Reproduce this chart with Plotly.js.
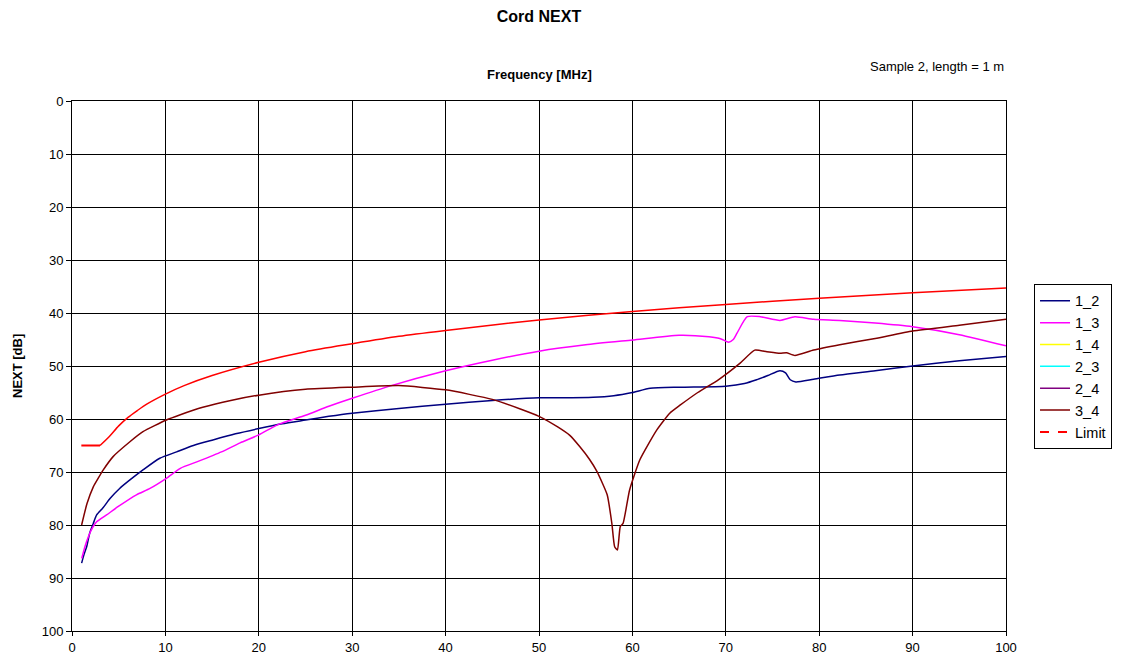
<!DOCTYPE html>
<html><head><meta charset="utf-8">
<script src="https://cdn.plot.ly/plotly-3.0.1.min.js"></script>
<style>html,body{margin:0;padding:0;background:#fff;}#chart{width:1127px;height:666px;}</style>
</head><body><div id="chart"></div>
<script>
// Frequency [MHz] / NEXT [dB]
const f12 = [1.03,1.3,1.57,1.9,2.28,2.64,3.3,4.07,5.1,6.2,7.6,9.4,11.2,13,15,17.5,20,22.5,25,27.5,30,35,40,45,50,52.2,55.8,58,60,61.9,65.1,70,72,73.3,74.5,75.8,76.4,76.9,77.5,79.4,82.2,86,90,95,100];
const v12 = [87.2,85.5,84.1,81.5,79.7,78.1,76.8,75,73.1,71.5,69.6,67.4,66.2,65,64,62.8,61.8,60.9,60.2,59.5,58.9,58,57.2,56.5,56,56.0,55.9,55.6,55,54.2,54,53.8,53.3,52.6,51.8,50.9,51.3,52.6,53,52.5,51.7,50.9,50,49,48.2];

const f13 = [1.04,1.4,1.75,2.2,2.64,3.7,4.96,6.9,8.35,10.1,11.6,13.5,16,18,20,22,25,27.5,30,34,40,45,50,55,60,65,68.2,69.5,70.3,70.8,71.2,72.3,73.7,75.8,77.4,79.4,82.2,86,90,95,100];
const v13 = [86.3,84,82.2,80.5,79.4,78.1,76.5,74.3,73.1,71.2,69.3,68,66.2,64.5,63,61.1,59.3,57.6,56.1,53.8,50.9,48.9,47.2,46,45.1,44.2,44.5,44.9,45.5,45,43.8,40.7,40.7,41.4,40.7,41.2,41.4,41.9,42.6,44.1,46.2];

const f34 = [1.03,1.6,2.28,2.8,3.35,4.4,6.2,7.6,10.1,11.6,14,17,20,25,30,35,40,45,48,50,52,53.3,54.4,55.4,56.2,57.3,57.8,58.1,58.4,58.7,59.0,59.7,60.8,62.6,64.0,65.1,67,69.2,71.5,73.1,74.4,75.8,76.5,77.4,79.4,82.2,86,90,95,100];
const v34 = [80,76,72.8,71.2,69.6,67.1,64.3,62.4,60.2,59.2,57.8,56.5,55.5,54.4,54.0,53.7,54.5,56.3,58.1,59.5,61.5,63.1,65.3,67.6,69.9,74.3,79.7,84.1,84.7,80.3,79.7,73.4,67.7,62.1,58.9,57.4,55,52.6,49.5,47,47.3,47.6,47.5,48,47,46,44.8,43.4,42.3,41.2];

// pairs listed in the legend but not visible on the plot
const f14 = [null], v14 = [null];
const f23 = [null], v23 = [null];
const f24 = [null], v24 = [null];

const fLim = [1,3,4,5,6,7,8,10,12,15,20,25,30,35,40,50,60,70,80,90,100];
const vLim = [65,65,63.3,61.3,59.7,58.4,57.2,55.3,53.7,51.8,49.3,47.3,45.8,44.4,43.3,41.3,39.7,38.4,37.2,36.2,35.3];

const names = ['1_2','1_3','1_4','2_3','2_4','3_4','Limit'];
const FONT = 'Liberation Sans, Arial, sans-serif';

function ln(x,y,name,color,sm){
  return {x:x,y:y,name:name,type:'scatter',mode:'lines',
          line:{color:color,width:1.5,shape:'spline',smoothing:sm},hoverinfo:'skip'};
}
const traces = [
  ln(f12,v12,names[0],'#000080',0.6),
  ln(f13,v13,names[1],'#FF00FF',0.6),
  ln(f14,v14,names[2],'#FFFF00',0.6),
  ln(f23,v23,names[3],'#00FFFF',0.6),
  ln(f24,v24,names[4],'#800080',0.6),
  ln(f34,v34,names[5],'#800000',0.5),
  Object.assign(ln(fLim.slice(1),vLim.slice(1),names[6],'#FF0000',0.8),{showlegend:false}),
  Object.assign(ln(fLim.slice(0,2),vLim.slice(0,2),names[6],'#FF0000',0),{showlegend:false,line:{color:'#FF0000',width:2}}),
  {x:[null],y:[null],name:names[6],type:'scatter',mode:'lines',line:{color:'#FF0000',width:2,dash:'dash'}}
];

const layout = {
  width:1127,height:666,
  margin:{l:72,r:121,t:101,b:35},
  paper_bgcolor:'#fff',plot_bgcolor:'#fff',
  font:{family:FONT,size:13,color:'#000'},
  title:{text:'<b>Cord NEXT</b>',font:{size:16,family:FONT},x:0.5,xref:'paper',y:0.975,yanchor:'middle'},
  xaxis:{range:[0,100],dtick:10,tick0:0,showgrid:true,gridcolor:'#000',gridwidth:1,
         showline:true,linecolor:'#000',linewidth:1,mirror:true,ticks:'outside',ticklen:4,tickcolor:'#000',
         zeroline:false,tickfont:{size:13}},
  yaxis:{range:[100,0],dtick:10,tick0:0,showgrid:true,gridcolor:'#000',gridwidth:1,
         showline:true,linecolor:'#000',linewidth:1,mirror:true,ticks:'outside',ticklen:5,tickcolor:'#000',
         zeroline:false,tickfont:{size:13}},
  showlegend:true,
  legend:{x:1.03,xanchor:'left',y:0.655,yanchor:'top',bordercolor:'#000',borderwidth:1,
          font:{size:14.5,family:FONT},tracegroupgap:0,itemwidth:30,bgcolor:'#fff'},
  annotations:[
    {text:'<b>Frequency [MHz]</b>',xref:'paper',yref:'paper',x:0.5,y:1.05,xanchor:'center',yanchor:'middle',showarrow:false,font:{size:13}},
    {text:'Sample 2, length = 1 m',xref:'paper',yref:'paper',x:1.0,y:1.065,xanchor:'right',yanchor:'middle',showarrow:false,font:{size:13}},
    {text:'<b>NEXT [dB]</b>',xref:'paper',yref:'paper',x:-0.0589,y:0.5,xanchor:'center',yanchor:'middle',textangle:-90,showarrow:false,font:{size:13}}
  ]
};
Plotly.newPlot('chart',traces,layout,{displayModeBar:false,staticPlot:true});
</script></body></html>
